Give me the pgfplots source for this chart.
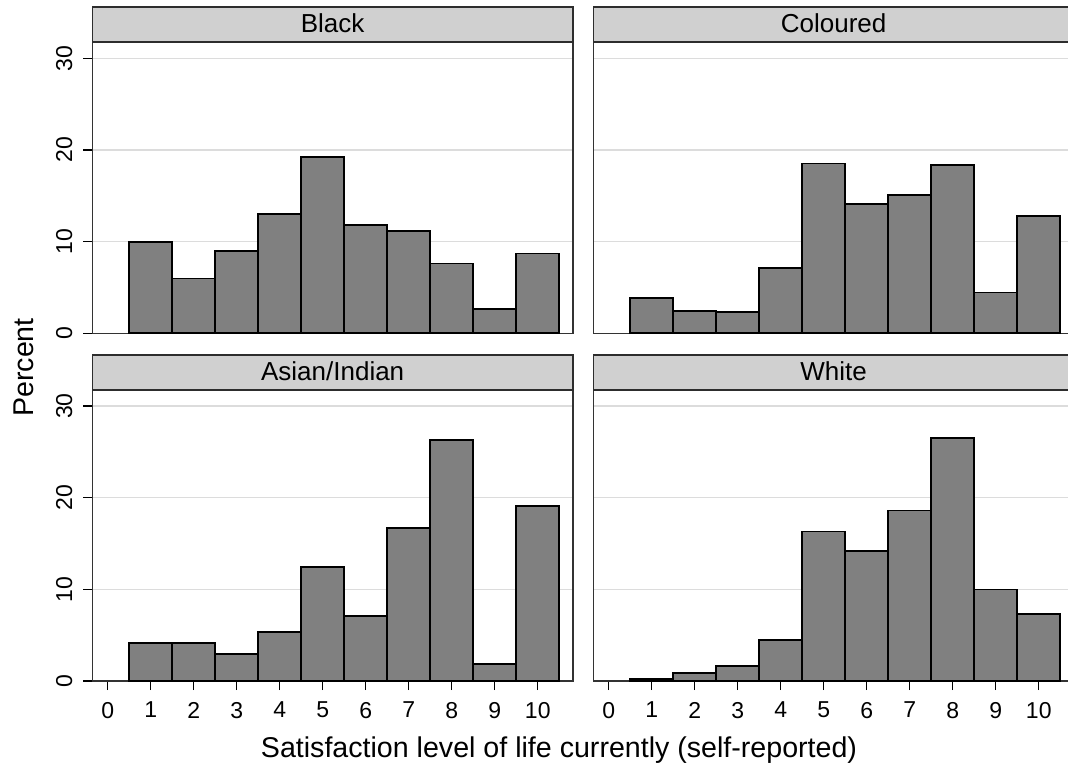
\documentclass[border=0pt]{standalone}
\usepackage{fontspec}
\setmainfont{Liberation Sans}
\usepackage{pgfplots}
\pgfplotsset{compat=1.18}
\definecolor{barfill}{RGB}{128,128,128}
\definecolor{gridc}{RGB}{220,220,220}
\definecolor{stripc}{RGB}{208,208,208}
\definecolor{stripline}{RGB}{45,45,45}
\newcommand{\strip}[1]{%
  \draw[fill=stripc, draw=stripline, line width=0.8pt] (rel axis cs:0,1) rectangle ([yshift=17.6pt]rel axis cs:1,1);
  \node[anchor=base, font=\fontsize{13}{15}\selectfont, inner sep=0pt] at ([yshift=4.9pt]rel axis cs:0.5,1) {#1};
}
\pgfplotsset{
  panel/.style={
    scale only axis, width=240.35pt, height=145.5pt, anchor=south west,
    xmin=-0.36, xmax=10.82, ymin=0, ymax=31.75,
    ytick={0,10,20,30}, ymajorgrids,
    grid style={color=gridc, line width=0.7pt},
    axis line style={draw=black!80, line width=0.6pt},
    tick style={draw=black, line width=0.6pt},
    tick align=outside, major tick length=4.5pt,
    tick pos=left,
    clip=false,
    tick label style={font=\fontsize{11.5}{13}\selectfont},
    /pgf/number format/assume math mode=true,
    yticklabel style={rotate=90, anchor=south},
    xticklabel shift=2.5pt, yticklabel shift=2pt,
  },
  bars/.style={ybar interval, fill=barfill, draw=black, line width=0.9pt},
}
\begin{document}
\begin{tikzpicture}
% Black
\begin{axis}[panel, at={(46.15pt,216.85pt)}, xtick=\empty]
\addplot[bars] coordinates {(0.5,10.0) (1.5,5.98) (2.5,8.97) (3.5,13.0) (4.5,19.25) (5.5,11.78) (6.5,11.16) (7.5,7.62) (8.5,2.66) (9.5,8.71) (10.5,8.71)};
\strip{Black}
\end{axis}
% Coloured
\begin{axis}[panel, at={(296.65pt,216.85pt)}, xtick=\empty, yticklabels={}, ytick style={draw=none}]
\addplot[bars] coordinates {(0.5,3.86) (1.5,2.44) (2.5,2.33) (3.5,7.11) (4.5,18.52) (5.5,14.07) (6.5,15.13) (7.5,18.37) (8.5,4.45) (9.5,12.76) (10.5,12.76)};
\strip{Coloured}
\end{axis}
% Asian/Indian
\begin{axis}[panel, at={(46.15pt,43pt)}, xtick={0,1,...,10}]
\addplot[bars] coordinates {(0.5,4.18) (1.5,4.18) (2.5,2.94) (3.5,5.38) (4.5,12.46) (5.5,7.12) (6.5,16.67) (7.5,26.33) (8.5,1.82) (9.5,19.1) (10.5,19.1)};
\strip{Asian/Indian}
\end{axis}
% White
\begin{axis}[panel, at={(296.65pt,43pt)}, xtick={0,1,...,10}, yticklabels={}, ytick style={draw=none}]
\addplot[bars] coordinates {(0.5,0.25) (1.5,0.91) (2.5,1.67) (3.5,4.47) (4.5,16.31) (5.5,14.17) (6.5,18.6) (7.5,26.48) (8.5,9.99) (9.5,7.3) (10.5,7.3)};
\strip{White}
\end{axis}
\node[anchor=base, font=\fontsize{14.3}{16}\selectfont, inner sep=0pt] at (279.5pt,5pt) {Satisfaction level of life currently (self-reported)};
\node[anchor=base, rotate=90, font=\fontsize{14.3}{16}\selectfont, inner sep=0pt] at (16.65pt,199.75pt) {Percent};
\pgfresetboundingbox
\path[use as bounding box] (0,0) rectangle (534pt,383.5pt);
\end{tikzpicture}
\end{document}
